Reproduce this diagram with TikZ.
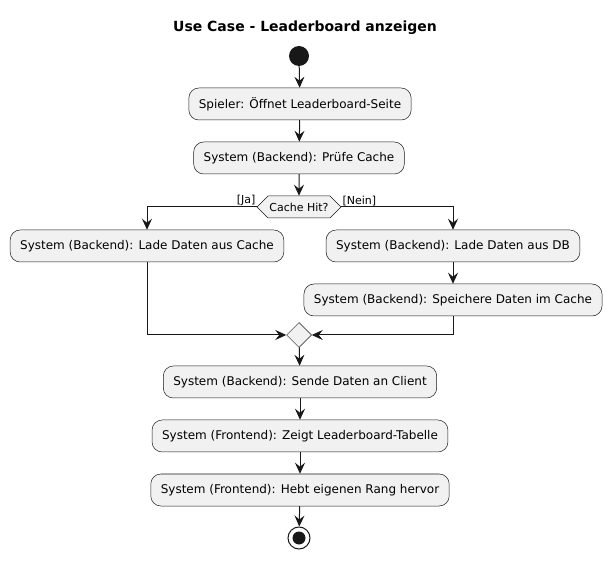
\documentclass[tikz,border=0pt]{standalone}
\usepackage{fontspec}
\setmainfont{DejaVu Sans}
\usetikzlibrary{arrows.meta,shapes.geometric,shapes.symbols}

\definecolor{actfill}{HTML}{F1F1F1}
\definecolor{actline}{HTML}{181818}

\begin{document}
\begin{tikzpicture}[x=1pt,y=-1pt,
	action/.style={rectangle, rounded corners=10pt, draw=actline, line width=0.5pt, fill=actfill,
		minimum height=32pt, inner xsep=10pt, font=\fontsize{12}{14}\selectfont},
	branch/.style={signal, signal to=west and east, signal pointer angle=90, draw=actline,
		line width=0.5pt, fill=actfill, minimum height=22pt, inner xsep=1.5pt, font=\fontsize{11}{13}\selectfont},
	merge/.style={diamond, draw=actline, line width=0.5pt, fill=actfill, minimum size=25pt, inner sep=0pt},
	guard/.style={font=\fontsize{11}{13}\selectfont, inner sep=1pt},
	flow/.style={-{Stealth[length=11pt,width=10pt,inset=4pt]}, draw=actline, line width=1pt}]
\useasboundingbox (0,0) rectangle (611,561);
\node [font=\bfseries\fontsize{14}{16}\selectfont] (title) at (305,28) {Use Case - Leaderboard anzeigen};
\node [circle, fill=actline, minimum size=20pt, inner sep=0pt] (start) at (299,56) {};
\node [action] (open) at (300,104) {Spieler: Öffnet Leaderboard-Seite};
\node [action] (check) at (299,158) {System (Backend): Prüfe Cache};
\node [branch] (hit) at (299,207) {Cache Hit?};
\node [action] (cache) at (147,246) {System (Backend): Lade Daten aus Cache};
\node [action] (db) at (453,246) {System (Backend): Lade Daten aus DB};
\node [action] (store) at (453,300) {System (Backend): Speichere Daten im Cache};
\node [merge] (join) at (299,335) {};
\node [action] (send) at (300,382) {System (Backend): Sende Daten an Client};
\node [action] (table) at (300,436) {System (Frontend): Zeigt Leaderboard-Tabelle};
\node [action] (rank) at (300,490) {System (Frontend): Hebt eigenen Rang hervor};
\node [circle, draw=actline, line width=1pt, fill=white, minimum size=22pt, inner sep=0pt] (stop) at (299,538) {};
\node [circle, fill=actline, minimum size=13pt, inner sep=0pt] (stopdot) at (stop) {};

% Ablauf
\draw [flow] (start) -- (open);
\draw [flow] (open) -- (check);
\draw [flow] (check) -- (hit);
\draw [flow] (hit.west) -| (cache.north);
\draw [flow] (hit.east) -| (db.north);
\draw [flow] (db) -- (store);
\draw [flow] (cache.south) |- (join.west);
\draw [flow] (store.south) |- (join.east);
\draw [flow] (join) -- (send);
\draw [flow] (send) -- (table);
\draw [flow] (table) -- (rank);
\draw [flow] (rank) -- (stop);

\node [guard, anchor=south east] (ja) at (hit.west) {[Ja]};
\node [guard, anchor=south west] (nein) at (hit.east) {[Nein]};
\end{tikzpicture}
\end{document}
